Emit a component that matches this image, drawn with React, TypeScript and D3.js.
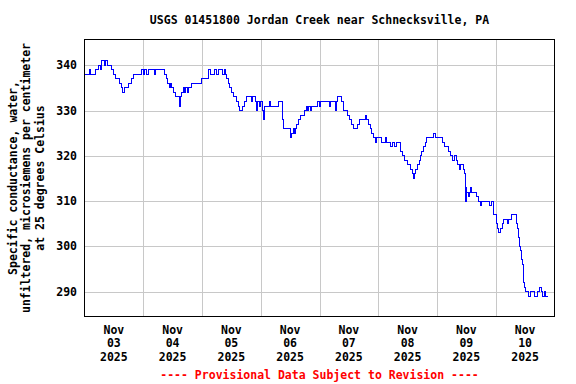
import React from "react";
import * as d3 from "d3";

const title = "USGS 01451800 Jordan Creek near Schnecksville, PA";
const yTitleLines = [
  "Specific conductance, water,",
  "unfiltered, microsiemens per centimeter",
  "at 25 degrees Celsius",
];
const footer = "---- Provisional Data Subject to Revision ----";
const startDate = new Date(2025, 10, 3, 0, 0);
const endDate = new Date(2025, 10, 11, 0, 0);
const dayLabels = ["03", "04", "05", "06", "07", "08", "09", "10"];
const monthLabel = "Nov";
const yearLabel = "2025";
const yTicks = [290, 300, 310, 320, 330, 340];

// hours after Nov 03 00:00 and specific conductance values (step changes)
const hours = [
  0, 2.1, 2.4, 4.4, 5.8, 6.4, 6.8, 7.1, 8.1, 8.5, 9.2, 10.9, 11.9, 12.6, 14.3, 15.2, 15.5, 16.2, 17.9, 19.3,
  20.0, 23.3, 23.9, 24.4, 25.5, 26.0, 28.6, 29.2, 32.7, 33.4, 34.1, 34.6, 35.2, 35.7, 36.4, 37.1, 38.7, 39.1,
  39.8, 40.3, 40.9, 41.4, 42.0, 42.5, 43.9, 47.7, 50.6, 51.3, 53.1, 54.0, 54.7, 56.5, 57.0, 57.6, 58.1, 58.7,
  59.4, 60.1, 60.9, 62.0, 62.8, 63.5, 64.7, 65.4, 66.1, 68.1, 68.6, 69.7, 70.1, 70.6, 71.4, 72.0, 72.6, 73.0,
  73.6, 75.6, 76.1, 79.4, 80.9, 81.4, 84.3, 84.6, 85.4, 85.7, 86.1, 86.8, 87.3, 88.1, 90.0, 90.6, 91.1, 91.7,
  92.2, 92.9, 95.3, 95.9, 96.3, 100.1, 100.5, 102.4, 102.8, 103.5, 104.9, 105.7, 107.4, 108.1, 109.2, 110.0,
  111.7, 112.4, 114.9, 115.3, 116.0, 116.7, 117.3, 118.0, 118.7, 119.4, 121.5, 122.8, 123.2, 125.1, 125.7,
  126.5, 127.3, 128.9, 130.0, 130.7, 132.0, 133.0, 133.8, 134.4, 134.9, 135.4, 136.1, 136.7, 137.2, 137.7,
  138.4, 139.1, 139.7, 142.4, 143.5, 146.1, 146.9, 148.5, 149.5, 150.4, 151.2, 151.9, 152.4, 153.1, 153.8,
  154.7, 155.2, 155.7, 155.9, 156.2, 156.9, 157.2, 157.6, 158.0, 160.0, 161.0, 161.7, 162.2, 165.4, 166.4,
  167.1, 168.2, 168.7, 169.3, 170.1, 170.8, 171.2, 173.0, 173.4, 174.3, 176.3, 176.9, 177.3, 177.7, 178.1,
  178.5, 179.1, 179.3, 179.7, 180.3, 181.4, 182.0, 183.7, 185.2, 185.9, 186.5, 187.2, 187.8, 188.3, 189.3,
];
const values = [
  338, 339, 338, 339, 340, 339, 340, 341, 340, 341, 340, 339, 338, 337, 336, 335, 334, 335, 336, 337,
  338, 339, 338, 339, 338, 339, 338, 339, 338, 337, 336, 335, 336, 335, 334, 333, 331, 333,
  334, 335, 334, 335, 334, 335, 336, 337, 339, 338, 339, 338, 339, 338, 339, 338, 337, 336,
  335, 334, 333, 332, 331, 330, 331, 332, 333, 332, 333, 332, 330, 332, 331, 332, 330, 328,
  331, 332, 331, 332, 328, 326, 324, 325, 326, 325, 326, 327, 328, 329, 330, 331, 330, 331,
  330, 331, 332, 331, 332, 331, 332, 330, 332, 333, 332, 330, 329, 328, 327, 326,
  327, 328, 329, 328, 327, 326, 325, 324, 323, 324, 323, 324, 323, 322, 323,
  322, 323, 321, 320, 319, 318, 317, 316, 315, 316, 317, 318, 319, 320, 321,
  322, 323, 324, 325, 324, 323, 322, 321, 320, 319, 320, 319, 318, 317, 318,
  317, 316, 310, 313, 312, 311, 312, 313, 312, 311, 310, 309, 310, 309, 310,
  307, 305, 304, 303, 304, 305, 306, 305, 306, 307, 305, 304, 302, 300, 299,
  297, 296, 292, 291, 290, 289, 290, 289, 290, 291, 290, 289, 290, 289, 289,
];

const W = 576;
const H = 384;
const M = { left: 84.5, right: 554.5, top: 39.5, bottom: 316.5 };
const FONT = "'DejaVu Sans Mono', 'Liberation Mono', monospace";

export default function App() {
  const x = d3.scaleTime().domain([startDate, endDate]).range([M.left, M.right]);
  const y = d3.scaleLinear().domain([284.5, 345.7]).range([M.bottom, M.top]);
  const data = hours.map((h, i) => ({ t: new Date(startDate.getTime() + h * 3600e3), v: values[i] }));
  const line = d3
    .line<{ t: Date; v: number }>()
    .x((d) => x(d.t))
    .y((d) => y(d.v))
    .curve(d3.curveStepAfter);
  const days = d3.timeDay.range(startDate, endDate);
  const gridDays = days.slice(1);
  const cx = (M.left + M.right) / 2;
  const cy = (M.top + M.bottom) / 2;

  return (
    <svg
      width={W}
      height={H}
      style={{ position: "absolute", left: 0, top: 0, background: "#fff" }}
      fontFamily={FONT}
      fontWeight="bold"
      fontSize={11.5}
    >
      <rect x={0} y={0} width={W} height={H} fill="#fff" />
      <text x={cx} y={20} textAnchor="middle" dominantBaseline="central" fill="#000">
        {title}
      </text>
      {gridDays.map((d, i) => (
        <line
          key={"gx" + i}
          x1={Math.round(x(d)) + 0.5}
          x2={Math.round(x(d)) + 0.5}
          y1={M.top}
          y2={M.bottom}
          stroke="#c8c8c8"
          strokeWidth={1}
          shapeRendering="crispEdges"
        />
      ))}
      {yTicks.map((t) => (
        <line
          key={"gy" + t}
          x1={M.left}
          x2={M.right}
          y1={Math.round(y(t)) + 0.5}
          y2={Math.round(y(t)) + 0.5}
          stroke="#c8c8c8"
          strokeWidth={1}
          shapeRendering="crispEdges"
        />
      ))}
      <path d={line(data) || ""} fill="none" stroke="#0000ff" strokeWidth={1} shapeRendering="crispEdges" />
      <rect
        x={M.left}
        y={M.top}
        width={M.right - M.left}
        height={M.bottom - M.top}
        fill="none"
        stroke="#000"
        strokeWidth={1}
        shapeRendering="crispEdges"
      />
      {yTicks.map((t) => (
        <text key={"yl" + t} x={77} y={y(t)} textAnchor="end" dominantBaseline="central" fill="#000">
          {t}
        </text>
      ))}
      {days.map((d, i) => {
        const xc = x(d3.timeHour.offset(d, 12));
        return (
          <g key={"xl" + i}>
            <text x={xc} y={330} textAnchor="middle" dominantBaseline="central">
              {monthLabel}
            </text>
            <text x={xc} y={343.3} textAnchor="middle" dominantBaseline="central">
              {dayLabels[i]}
            </text>
            <text x={xc} y={356.5} textAnchor="middle" dominantBaseline="central">
              {yearLabel}
            </text>
          </g>
        );
      })}
      {yTitleLines.map((s, i) => (
        <text
          key={"yt" + i}
          transform={`translate(${13 + i * 13.3},${cy}) rotate(-90)`}
          textAnchor="middle"
          dominantBaseline="central"
          fill="#000"
        >
          {s}
        </text>
      ))}
      <text x={cx} y={375} textAnchor="middle" dominantBaseline="central" fill="#ff0000">
        {footer}
      </text>
    </svg>
  );
}
